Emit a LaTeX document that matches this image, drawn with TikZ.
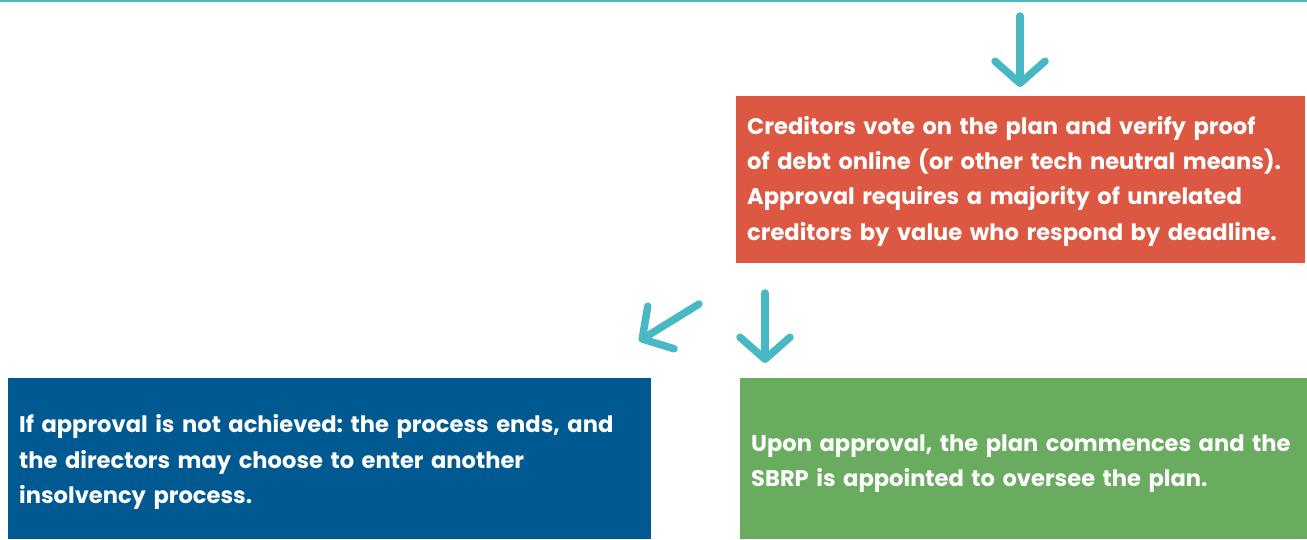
\documentclass[tikz,border=0pt]{standalone}
\usepackage{fontspec}
\setmainfont{Poppins}
\usepackage{tikz}
\usetikzlibrary{arrows.meta,positioning}
\definecolor{stepteal}{HTML}{47B8C4}
\definecolor{stepred}{HTML}{DC5842}
\definecolor{stepblue}{HTML}{005A91}
\definecolor{stepgreen}{HTML}{69AB5F}
\frenchspacing
\tikzset{
  flow box/.style={anchor=north west,inner xsep=11pt,inner ysep=0pt,align=left,
    text=white,font=\fontsize{22.6}{35.3}\selectfont\bfseries},
  text drop/.style={execute at begin node={\rule{0pt}{#1}}},
  flow arrow/.style={stepteal,line width=7.5pt,line cap=round,
    -{Straight Barb[length=22pt,width=50pt,round]}}
}

\begin{document}
\begin{tikzpicture}[x=1pt,y=-1pt]
  \useasboundingbox (0,0) rectangle (1307,539);
  \draw[stepteal,line width=2.5pt] (0,1) -- (1307,1);

  \node[flow box,fill=stepred,minimum width=569pt,minimum height=167pt,
        text width=547pt,text drop=21pt] (vote) at (736,96)
    {Creditors vote on the plan and verify proof\\
     of debt online (or other tech neutral means).\\
     Approval requires a majority of unrelated\\
     creditors by value who respond by deadline.};
  \node[flow box,fill=stepblue,minimum width=643pt,minimum height=161pt,
        text width=621pt,text drop=25pt] (fail) at (8,378)
    {If approval is not achieved: the process ends, and\\
     the directors may choose to enter another\\
     insolvency process.};
  \node[flow box,fill=stepgreen,minimum width=567pt,minimum height=161pt,
        text width=545pt,text drop=27pt] (approve) at (740,378)
    {Upon approval, the plan commences and the\\
     SBRP is appointed to oversee the plan.};

  % free-standing arrows between the boxes
  \coordinate (in top) at (1020,16);
  \coordinate (in tip) at (1020,87);
  \coordinate (no tail) at (699,304);
  \coordinate (no tip) at (639,341);
  \coordinate (yes tail) at (765,293);
  \coordinate (yes tip) at (765,363);
  \draw[flow arrow] (in top) -- (in tip);
  \draw[flow arrow] (no tail) -- (no tip);
  \draw[flow arrow] (yes tail) -- (yes tip);
\end{tikzpicture}
\end{document}
